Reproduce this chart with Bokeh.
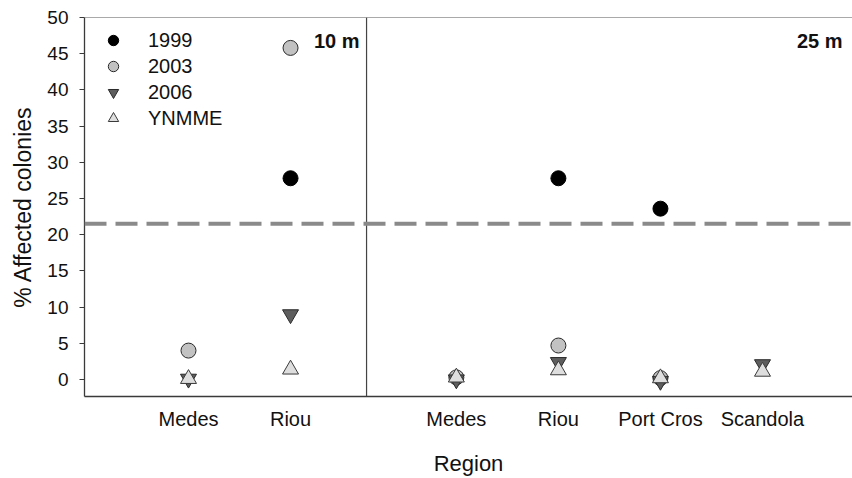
import numpy as np
from bokeh.plotting import figure
from bokeh.models import (ColumnDataSource, Range1d, FixedTicker, Span, Label,
                          Legend, LegendItem)
from bokeh.embed import file_html
from bokeh.resources import INLINE

# --- data -------------------------------------------------------------
regions = ["Medes", "Riou", "Medes", "Riou", "Port Cros", "Scandola"]
depths = ["10 m", "10 m", "25 m", "25 m", "25 m", "25 m"]
nan = np.nan
pct_1999 = [nan, 27.8, nan, 27.8, 23.6, nan]
pct_2003 = [4.0, 45.8, 0.3, 4.7, 0.2, nan]
pct_2006 = [0.1, 9.0, 0.0, 2.4, -0.2, 2.1]
pct_ynmme = [0.1, 1.4, 0.3, 1.3, 0.2, 1.1]
threshold = 21.5
y_ticks = [0, 5, 10, 15, 20, 25, 30, 35, 40, 45, 50]

# --- layout -----------------------------------------------------------
GROUP_GAP = 0.625          # extra space between the two depth panels
FONT = "Liberation Sans"

depth_order = list(dict.fromkeys(depths))
xpos = [i + GROUP_GAP * depth_order.index(d) for i, d in enumerate(depths)]
divider = 1.745
x_end = 6.507

src = ColumnDataSource(dict(x=xpos, region=regions, depth=depths,
                            y1999=pct_1999, y2003=pct_2003,
                            y2006=pct_2006, yn=pct_ynmme))

p = figure(width=852, height=478, output_backend="svg", toolbar_location=None,
           x_range=Range1d(-1.019, x_end), y_range=Range1d(-2.34, 50),
           min_border_left=84, min_border_right=0, min_border_top=17,
           min_border_bottom=80)
p.outline_line_color = None
p.grid.visible = False
p.background_fill_color = "white"
p.border_fill_color = "white"

# axes
p.yaxis.ticker = FixedTicker(ticks=y_ticks)
p.yaxis.minor_tick_line_color = None
p.yaxis.major_tick_out = 5
p.yaxis.major_tick_in = 0
p.yaxis.major_label_standoff = 11
p.yaxis.axis_label = "% Affected colonies"
p.yaxis.axis_label_standoff = 8

p.xaxis.ticker = FixedTicker(ticks=xpos)
p.xaxis.major_label_overrides = {x: r for x, r in zip(xpos, regions)}
p.xaxis.minor_tick_line_color = None
p.xaxis.major_label_standoff = 5
p.xaxis.axis_label = "Region"
p.xaxis.axis_label_standoff = 18

for ax in (p.xaxis, p.yaxis):
    ax.axis_line_color = "#3a3a3a"
    ax.axis_line_width = 1.3
    ax.major_label_text_font = FONT
    ax.major_label_text_color = "#111111"
    ax.axis_label_text_font = FONT
    ax.axis_label_text_font_style = "normal"
    ax.axis_label_text_color = "#111111"
p.yaxis.major_tick_line_color = "#3a3a3a"
p.xaxis.major_tick_line_color = None
p.yaxis.major_label_text_font_size = "19px"
p.xaxis.major_label_text_font_size = "20px"
p.yaxis.axis_label_text_font_size = "23px"
p.xaxis.axis_label_text_font_size = "22px"

# frame top line and the panel divider
p.add_layout(Span(location=50, dimension="width", line_color="#555555",
                  line_width=1.2))
p.add_layout(Span(location=divider, dimension="height", line_color="#444444",
                  line_width=1.2))

# threshold
p.add_layout(Span(location=threshold, dimension="width", line_color="#8a8a8a",
                  line_width=4, line_dash="22 9"))

# series
r99 = p.scatter("x", "y1999", source=src, marker="circle", size=15,
                fill_color="black", line_color="black", line_width=1)
r03 = p.scatter("x", "y2003", source=src, marker="circle", size=15,
                fill_color="#c2c2c2", line_color="#2a2a2a", line_width=1)
r06 = p.scatter("x", "y2006", source=src, marker="inverted_triangle", size=16,
                fill_color="#5e5e5e", line_color="#2a2a2a", line_width=1)
ryn = p.scatter("x", "yn", source=src, marker="triangle", size=16,
                fill_color="#dedede", line_color="#3a3a3a", line_width=1)

legend = Legend(items=[LegendItem(label="1999", renderers=[r99]),
                       LegendItem(label="2003", renderers=[r03]),
                       LegendItem(label="2006", renderers=[r06]),
                       LegendItem(label="YNMME", renderers=[ryn])],
                location="top_left", margin=10, padding=9, spacing=0,
                glyph_width=38, glyph_height=26, label_height=26,
                label_standoff=16, border_line_color=None,
                background_fill_alpha=0,
                label_text_font=FONT, label_text_font_size="20px",
                label_text_color="#111111")
p.add_layout(legend)

# depth labels
p.add_layout(Label(x=divider, y=50, text="10 m", text_align="right",
                   text_baseline="top", x_offset=-7, y_offset=-12,
                   text_font=FONT, text_font_size="20px",
                   text_font_style="bold", text_color="#111111"))
p.add_layout(Label(x=x_end, y=50, text="25 m", text_align="right",
                   text_baseline="top", x_offset=-10, y_offset=-12,
                   text_font=FONT, text_font_size="20px",
                   text_font_style="bold", text_color="#111111"))

open("out.html", "w").write(file_html(p, INLINE))
